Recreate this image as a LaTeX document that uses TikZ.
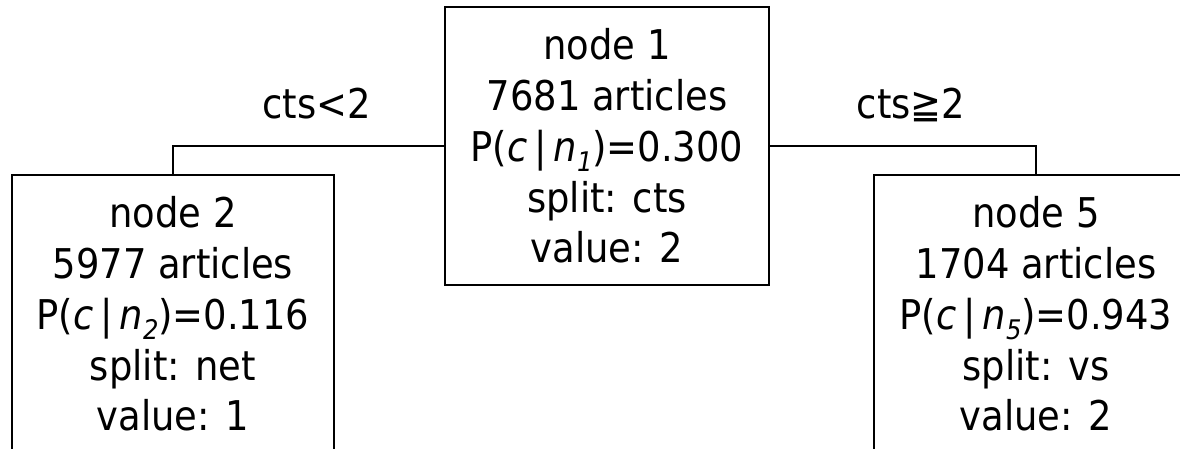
\documentclass[tikz,border=0pt]{standalone}
\usepackage{fontspec}
\setmainfont{DejaVu Sans Condensed}
\usetikzlibrary{calc}
\newcommand\probline[2]{P(\textit{c}\,|\,\textit{n}\raisebox{-.25em}{\fontsize{27}{27}\selectfont\itshape #1})=#2}

\begin{document}
\begin{tikzpicture}[x=1pt, y=-1pt, line width=1.6pt,
 treebox/.style={draw, rectangle, align=center, inner sep=0pt, minimum width=324pt, minimum height=278pt, font=\fontsize{41}{50.8}\selectfont},
 cond/.style={font=\fontsize{41}{48}\selectfont, anchor=base, inner sep=0pt}]
 \useasboundingbox (0,0) rectangle (1180,449);
 \clip (0,0) rectangle (1180,449);
 \node[treebox] (n1) at (607,146) {node 1\\7681 articles\\\probline{1}{0.300}\\split: cts\\value: 2};
 \node[treebox, minimum width=322pt] (n2) at (173,314) {node 2\\5977 articles\\\probline{2}{0.116}\\split: net\\value: 1};
 \node[treebox] (n5) at (1036,314) {node 5\\1704 articles\\\probline{5}{0.943}\\split: vs\\value: 2};
%分岐の条件
 \draw (n1.west) -| (n2.north) node[cond, pos=.25, yshift=27pt, xshift=8pt] {cts<2};
 \draw (n1.east) -| (n5.north) node[cond, pos=.25, yshift=27pt, xshift=8pt] {cts≧2};
\end{tikzpicture}
\end{document}
